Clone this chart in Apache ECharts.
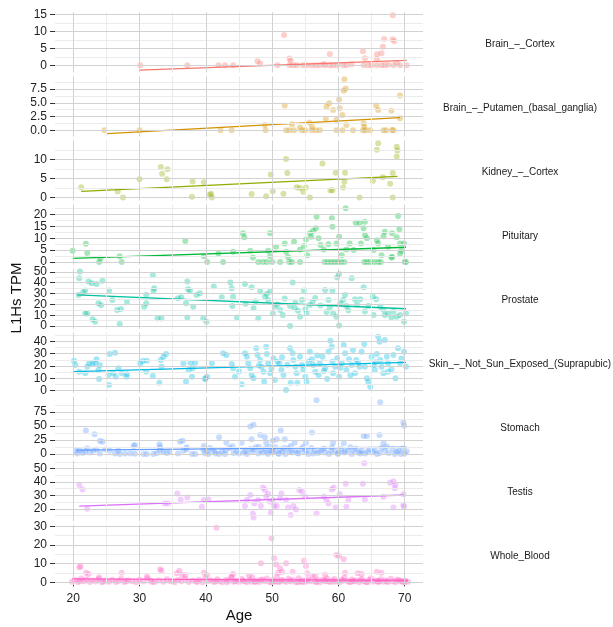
<!DOCTYPE html>
<html><head><meta charset="utf-8">
<script src="https://cdn.jsdelivr.net/npm/echarts@6/dist/echarts.min.js"></script>
<style>html,body{margin:0;padding:0;background:#fff}#c{width:613px;height:627px}</style>
</head><body><div id="c"></div>
<script>
// ---------------- DATA ----------------
const tissues = ['Brain_–_Cortex','Brain_–_Putamen_(basal_ganglia)','Kidney_–_Cortex','Pituitary','Prostate','Skin_–_Not_Sun_Exposed_(Suprapubic)','Stomach','Testis','Whole_Blood'];
const xTicks = [20,30,40,50,60,70];
const xMinorTicks = [25,35,45,55,65];
const yTicks = [[0,5,10,15],[0,2.5,5,7.5],[0,5,10],[0,5,10,15,20],[0,10,20,30,40,50],[0,10,20,30,40],[0,25,50,75],[20,30,40,50],[0,10,20,30]];
const yMinorTicks = [[2.5,7.5,12.5],[1.25,3.75,6.25,8.75],[2.5,7.5,12.5],[2.5,7.5,12.5,17.5,22.5],[5,15,25,35,45],[5,15,25,35,45],[12.5,37.5,62.5,87.5],[15,25,35,45,55],[5,15,25]];
const yLimits = [[-2.16,15.71],[-1.15,9.8],[-0.85,14.95],[-1.2,24.3],[-2.5,53.1],[-1.74,47.1],[-5,102.5],[10.9,56],[-1.45,30.85]];
const xLimits = [17.24,72.76];

const cortexPts = [[30.1,0],[37.2,0],[41.9,0],[42.9,0],[44.1,0],[47.8,1.2],[48.2,0.5],[50.8,0],[51.8,9.0],[52.6,2.0],[52.8,1.3],[52.6,0],[53.2,0],[53.7,0],[54.7,0],[55.3,0],[56.0,0],[56.6,0],[57.2,0],[57.8,0.4],[58.0,0],[58.7,0],[59.2,0],[58.7,3.35],[59.8,0],[60.7,0],[61.2,0],[62.0,0.3],[63.7,4.2],[64.0,2.1],[63.8,0],[64.5,0],[65.0,0],[65.8,3.3],[65.8,1.8],[65.8,0],[66.5,3.6],[66.5,0],[66.7,5.5],[66.9,7.8],[67.0,0],[67.5,0.2],[68.2,7.7],[68.4,7.1],[68.2,14.8],[68.3,0],[68.8,0.5],[69.3,0],[70.3,0]];
const putamenPts = [[24.7,0],[30.0,0],[42.2,0],[43.9,0],[48.9,0.96],[49.0,0],[51.9,4.5],[52.1,0],[52.6,0],[53.3,0],[53.0,1.1],[54.2,0.5],[54.5,0],[55.0,0],[55.6,1.4],[56.0,0.66],[56.0,0],[56.6,0],[57.2,0],[58.2,4.3],[58.6,4.9],[58.1,2.1],[59.2,3.7],[59.7,1.9],[59.7,0],[60.1,5.6],[60.2,4.0],[60.6,2.8],[60.6,0],[60.8,7.2],[61.1,7.6],[60.9,9.26],[61.2,0.96],[62.2,0],[63.7,0],[63.8,1.27],[63.9,0.66],[64.1,0],[64.8,0],[65.7,4.5],[66.0,3.7],[66.8,0],[67.2,0],[68.0,3.56],[68.1,0.05],[68.3,0],[69.3,6.3],[69.3,2.2]];
const kidneyPts = [[21.2,2.7],[26.7,1.55],[27.5,0],[30.0,4.8],[33.2,8.0],[33.4,6.2],[34.2,7.4],[34.1,4.8],[38.0,4.2],[37.9,0.2],[39.7,4.0],[40.6,0.7],[40.8,1.0],[40.9,0],[46.9,0.9],[49.1,0.3],[49.8,6.0],[50.1,1.6],[51.7,1.0],[52.1,10.1],[52.3,6.4],[53.7,2.7],[54.2,2.5],[54.7,1.5],[55.1,2.6],[55.7,0],[57.6,8.9],[58.8,1.8],[59.1,1.9],[59.6,6.5],[60.7,2.6],[60.9,4.1],[61.0,6.5],[63.2,0],[65.2,4.4],[65.8,12.5],[66.0,14.2],[66.7,5.3],[67.8,3.6],[68.2,6.4],[68.2,0],[68.8,13.3],[68.9,12.3],[68.8,10.7]];
const pituitaryPts = [[19.9,4.7],[21.9,7.7],[22.1,3.8],[23.9,0],[24.1,1.4],[27.0,2.4],[27.3,0],[36.9,8.8],[39.7,2.4],[40.2,0],[41.9,3.6],[42.6,0],[44.1,4.3],[45.6,12.1],[45.8,10.4],[46.7,4.7],[47.1,1.9],[47.9,0],[48.6,0],[49.2,0],[49.4,4.7],[49.7,12.1],[49.7,2.4],[50.0,0],[50.6,6.4],[51.2,0],[51.9,7.8],[52.1,4.3],[52.4,2.1],[52.6,0],[53.0,0],[53.3,8.5],[54.2,5.3],[54.8,6.7],[55.1,9.5],[55.3,2.85],[54.2,0],[55.7,12.1],[55.9,10.6],[56.2,13.2],[56.6,14.2],[56.7,19.1],[57.0,10.0],[57.3,7.1],[57.8,5.3],[58.5,7.5],[59.0,18.5],[59.1,14.9],[57.9,0],[58.4,0],[58.9,0],[59.4,0],[59.9,0],[60.4,0],[60.9,0],[59.7,7.8],[60.1,10.6],[60.5,2.85],[61.1,22.7],[61.2,5.3],[61.7,7.8],[62.3,5.0],[62.6,16.6],[63.2,16.6],[63.4,7.8],[63.8,14.2],[64.0,17.0],[64.0,11.4],[64.3,10.0],[63.9,0],[64.3,0],[64.8,0],[65.4,0],[66.0,0],[66.4,0],[65.3,5.0],[65.8,9.2],[66.0,7.8],[66.5,2.85],[66.8,10.9],[67.0,12.8],[67.5,6.4],[68.0,1.9],[68.1,12.1],[68.8,10.4],[69.0,19.4],[69.2,13.8],[69.3,7.8],[69.9,7.8],[69.5,4.7],[69.3,3.6],[70.2,0],[70.0,0],[68.1,2.1]];
const prostatePts = [[21.0,50.3],[20.9,44.1],[20.8,28.7],[21.5,31.2],[21.8,32.7],[22.3,41.0],[22.8,39.5],[22.1,11.7],[21.8,11.7],[22.9,6.2],[23.3,4.0],[23.5,38.9],[23.8,21.0],[24.2,19.1],[24.4,41.9],[25.4,32.7],[25.9,24.1],[26.6,14.8],[27.2,15.7],[27.0,1.9],[28.1,22.5],[30.7,17.9],[31.0,21.0],[31.0,28.7],[32.0,46.9],[32.1,32.7],[32.2,34.9],[32.7,7.1],[33.3,7.1],[35.8,25.6],[36.3,26.6],[37.2,41.0],[37.3,34.0],[37.6,32.7],[37.0,21.0],[38.1,17.9],[38.6,28.7],[39.1,30.3],[39.6,7.1],[40.1,4.0],[37.2,8.0],[41.2,36.4],[42.4,26.6],[43.7,40.1],[43.9,34.9],[44.1,27.1],[44.0,18.5],[44.7,8.0],[45.9,38.9],[46.9,35.8],[47.2,16.4],[47.9,7.1],[48.2,31.8],[48.9,27.1],[49.2,29.6],[49.4,24.1],[49.7,31.8],[50.1,11.7],[50.4,17.9],[51.2,14.8],[51.6,10.2],[52.7,0],[53.1,40.1],[52.7,18.5],[53.4,16.4],[53.9,14.2],[54.5,24.1],[54.2,8.6],[54.8,32.7],[55.2,12.3],[55.7,19.4],[56.1,22.5],[58.0,33.3],[58.5,24.1],[58.7,17.3],[59.1,32.7],[59.2,11.7],[59.7,8.6],[59.8,45.1],[60.1,48.1],[60.1,0.6],[60.3,21.0],[60.7,24.1],[61.0,28.7],[61.2,18.5],[62.0,44.1],[62.5,24.7],[63.3,24.7],[63.8,35.8],[64.5,18.5],[65.2,27.1],[65.3,10.2],[65.7,24.7],[66.3,17.9],[67.0,10.2],[67.5,11.7],[68.0,8.0],[68.8,8.6],[69.3,10.2],[69.9,4.0],[70.2,11.7],[46.0,20.5],[47.5,23.0],[50.8,20.0],[51.9,25.5],[53.5,21.5],[55.0,15.5],[56.5,26.0],[57.3,19.0],[58.2,13.0],[61.5,14.5],[62.8,20.0],[64.0,13.5],[66.8,15.0],[68.3,13.5]];
const skinPts = [[20.1,24.3],[20.3,20.8],[20.9,15.4],[21.8,14.1],[22.1,19.4],[22.4,22.2],[22.9,21.6],[23.3,22.7],[23.5,25.4],[23.8,16.8],[23.9,9.5],[24.0,20.8],[25.4,4.6],[25.5,29.7],[26.3,30.8],[25.3,12.7],[26.0,14.1],[26.4,11.3],[26.8,18.1],[27.3,14.1],[28.0,11.3],[28.1,13.5],[30.1,22.2],[30.5,24.0],[31.1,24.3],[31.0,15.4],[32.0,11.9],[33.0,6.5],[33.2,24.9],[33.3,19.4],[33.6,27.5],[34.0,29.7],[36.6,22.2],[37.0,7.3],[37.4,16.8],[37.7,22.7],[37.9,11.3],[38.0,18.1],[38.4,22.7],[39.9,9.2],[40.2,11.3],[39.9,10.0],[40.9,22.2],[42.6,30.3],[43.1,28.9],[43.9,21.6],[44.1,18.1],[44.4,11.3],[45.4,5.2],[45.9,30.3],[46.2,27.5],[46.4,22.2],[46.7,18.1],[46.9,12.7],[47.2,10.0],[47.6,34.3],[47.8,28.9],[48.2,24.9],[48.4,19.4],[48.7,15.4],[48.8,7.3],[49.1,35.6],[49.2,29.7],[49.4,22.2],[49.7,14.1],[49.9,18.1],[50.2,26.2],[50.4,8.7],[50.8,23.5],[51.1,22.2],[51.4,16.8],[51.7,12.7],[52.1,0.6],[52.7,34.3],[52.8,6.5],[53.1,30.3],[53.2,24.9],[53.5,19.4],[53.7,14.1],[53.8,6.5],[54.2,27.5],[54.5,20.8],[54.7,16.8],[55.0,11.3],[55.2,7.3],[55.7,31.6],[56.0,25.4],[56.2,20.8],[56.5,15.4],[57.0,12.7],[57.2,22.2],[57.6,27.5],[58.0,18.1],[58.5,31.6],[58.8,40.5],[59.0,35.6],[59.1,23.5],[59.2,14.1],[59.5,19.4],[59.8,26.2],[60.1,11.3],[60.5,22.2],[60.8,37.0],[61.0,30.3],[61.2,16.8],[61.6,25.4],[62.0,20.8],[62.2,33.0],[62.5,14.1],[62.7,24.9],[63.2,19.4],[63.5,31.6],[63.9,37.8],[64.0,19.4],[64.3,10.0],[64.5,7.3],[64.8,3.2],[65.0,27.5],[65.3,20.8],[65.5,16.8],[65.8,29.7],[66.0,43.7],[66.2,39.7],[66.3,24.9],[66.5,19.4],[66.8,14.1],[67.0,41.1],[67.3,27.5],[67.5,22.2],[67.5,15.4],[68.0,17.3],[68.3,28.9],[68.6,10.0],[69.0,34.3],[69.3,22.2],[69.9,31.6],[70.2,19.4],[69.5,26.0],[52.3,21.0],[55.5,23.5],[57.8,16.0],[60.3,18.5],[63.0,22.5],[65.6,23.0],[48.0,20.5],[45.0,15.5],[51.5,27.0],[56.8,28.5],[61.8,12.5],[58.3,9.5]];
const stomachPts = [[20.4,6],[20.6,1.2],[21.0,7],[21.4,2],[21.8,5],[21.9,42],[22.1,10],[22.5,3],[23.0,6],[23.2,35.4],[23.5,8],[24.0,23.4],[24.0,1],[24.4,22.2],[24.8,8],[25.5,6],[26.3,1],[26.8,6],[27.0,0],[27.8,1],[28.6,1],[29.1,14.4],[29.3,16.2],[29.3,0.5],[30.6,0],[31.1,0],[32.1,0],[32.6,2],[33.0,17.4],[33.1,13.1],[33.1,7],[33.6,4],[34.1,2],[34.6,4],[35.8,1],[36.1,22.2],[36.5,24],[36.6,6],[37.1,12],[37.1,8],[37.9,0],[38.4,0],[39.6,8],[39.7,14.4],[39.8,2],[40.4,0],[42.0,30],[43.1,20.3],[45.4,20.3],[46.7,49.1],[47.2,52.2],[48.2,34.2],[46.9,26.4],[48.9,30],[49.1,20.3],[49.6,13.1],[50.1,24],[50.7,26.4],[51.3,42],[51.9,26.4],[52.8,14.4],[53.4,20.3],[56.0,38.4],[56.7,95.9],[55.1,20.3],[59.2,20.3],[60.8,19.2],[63.8,32.4],[64.3,32.4],[66.2,34.2],[66.3,92.3],[66.8,19.2],[69.8,56.3],[69.9,50.4],[40.2,3],[41.0,8],[41.5,1],[42.4,5],[42.9,0],[43.6,11],[44.2,2],[44.6,6],[45.7,3],[46.2,0],[46.7,9],[47.0,4],[47.5,12],[47.9,1],[48.3,6],[48.6,3],[49.0,10],[49.4,0],[49.8,7],[50.2,4],[50.5,12],[50.9,2],[51.2,8],[51.6,5],[52.0,0],[52.4,10],[53.0,3],[53.5,7],[54.0,1],[54.4,9],[54.9,4],[55.5,0],[55.9,11],[56.4,6],[56.9,2],[57.5,8],[58.0,3],[58.6,0],[59.0,12],[59.5,5],[60.0,2],[60.4,9],[61.0,4],[61.5,7],[62.0,0],[62.6,10],[63.1,3],[63.5,6],[64.0,1],[64.7,8],[65.2,4],[65.8,0],[66.5,11],[67.0,6],[67.6,2],[68.2,9],[68.8,4],[69.4,0],[70.0,1],[70.3,5],[40.6,11],[41.3,4],[42.0,0],[43.0,7],[44.0,14],[45.0,1],[46.0,5],[47.3,8],[48.0,13],[49.2,3],[50.0,6],[51.0,0],[51.8,11],[52.7,5],[53.8,2],[54.7,13],[55.2,6],[56.2,1],[57.2,4],[57.9,10],[58.9,6],[59.9,0],[60.8,3],[61.8,12],[62.4,6],[63.3,1],[64.4,4],[65.5,7],[66.2,2],[67.3,13],[68.5,0],[69.1,6],[69.7,10]];
const testisPts = [[20.9,37.8],[21.4,34.5],[22.1,20.0],[33.8,24.0],[34.3,24.0],[35.7,31.5],[36.2,27.0],[37.2,28.5],[39.4,21.5],[39.7,26.5],[40.4,27.0],[45.9,22.0],[46.2,26.5],[46.7,30.3],[47.1,16.5],[47.2,13.5],[47.3,24.0],[47.9,26.5],[48.3,22.0],[48.6,36.0],[48.9,34.0],[49.1,29.0],[49.4,31.0],[49.7,25.3],[49.8,17.0],[50.1,26.5],[50.3,22.0],[50.7,22.0],[51.2,27.8],[51.4,31.5],[52.1,26.5],[52.4,21.0],[52.8,15.3],[53.2,22.0],[53.6,19.5],[54.1,34.0],[54.5,32.8],[55.0,29.0],[56.7,16.5],[57.8,29.0],[58.2,26.5],[58.5,24.0],[59.0,34.5],[59.3,36.0],[59.6,21.0],[60.2,31.0],[61.1,38.8],[61.2,21.5],[61.5,26.5],[63.7,38.8],[63.9,54.0],[64.0,27.0],[66.8,29.0],[67.8,39.5],[68.3,21.0],[68.5,35.3],[69.8,22.8],[69.9,21.5],[69.8,30.8],[68.3,40.5],[68.6,38.0]];
const bloodPts = [[20.9,8.0],[21.1,8.4],[21.9,5.1],[22.3,4.4],[23.9,2.7],[27.3,5.1],[31.1,3.0],[33.1,7.0],[33.3,6.2],[35.6,4.8],[36.0,6.2],[36.4,3.9],[36.9,3.9],[39.7,5.1],[40.2,3.9],[41.6,29.2],[49.9,23.6],[50.3,12.9],[48.3,10.2],[51.2,7.5],[50.9,5.1],[52.1,10.2],[53.1,5.7],[54.8,11.6],[55.1,8.7],[55.3,4.8],[59.7,14.6],[60.1,14.1],[60.8,12.3],[61.0,5.1],[62.9,4.8],[63.5,4.4],[65.8,5.7],[66.5,5.1],[44.1,4.4],[43.9,3.0],[50.6,9.5],[51.5,5.5],[46.5,3.5],[56.5,3.2],[58.0,4.0],
[19.8,0.3],[20.3,1.2],[20.7,0.1],[21.2,2.0],[21.6,0.6],[22.0,1.5],[22.5,0.2],[22.9,1.0],[23.4,0.4],[23.8,1.8],[24.3,0.0],[24.9,0.9],[25.4,0.3],[25.9,1.4],[26.4,0.1],[26.8,0.7],[27.2,1.9],[27.7,0.2],[28.3,1.1],[28.9,0.5],[29.5,0.0],[30.0,1.3],[30.6,0.4],[31.2,2.2],[31.7,0.8],[32.3,0.1],[32.9,1.0],[33.6,0.3],[34.1,1.6],[34.7,0.5],[35.3,0.0],[35.8,1.2],[36.3,0.6],[36.9,1.9],[37.4,0.2],[38.0,0.9],[38.5,0.4],[39.0,1.4],[39.5,0.0],[39.9,2.1],[40.4,0.7],[40.8,1.1],[41.2,0.2],[41.7,1.6],[42.1,0.5],[42.5,0.0],[43.0,1.3],[43.4,0.8],[43.8,2.4],[44.2,0.3],[44.6,1.0],[45.0,0.1],[45.4,1.7],[45.8,0.6],[46.2,0.0],[46.6,1.2],[47.0,2.6],[47.3,0.4],[47.7,0.9],[48.1,0.1],[48.5,1.5],[48.9,0.5],[49.2,2.0],[49.6,0.2],[50.0,1.1],[50.3,0.6],[50.7,3.0],[51.0,0.0],[51.4,1.4],[51.8,0.8],[52.1,0.2],[52.5,1.9],[52.9,0.4],[53.2,1.2],[53.6,0.0],[54.0,2.2],[54.3,0.7],[54.7,1.0],[55.0,0.1],[55.4,1.6],[55.8,0.5],[56.1,2.8],[56.5,0.3],[56.9,1.1],[57.2,0.0],[57.6,1.4],[58.0,0.6],[58.3,2.0],[58.7,0.2],[59.1,0.9],[59.4,1.7],[59.8,0.4],[60.2,0.0],[60.5,1.3],[60.9,2.4],[61.3,0.7],[61.6,0.1],[62.0,1.5],[62.4,0.5],[62.7,1.0],[63.1,0.0],[63.5,1.8],[63.8,0.6],[64.2,0.2],[64.6,1.2],[64.9,2.1],[65.3,0.4],[65.7,0.9],[66.0,0.0],[66.4,1.6],[66.8,0.3],[67.1,1.1],[67.5,0.1],[67.9,1.9],[68.2,0.6],[68.6,0.0],[69.0,1.3],[69.3,0.5],[69.7,0.2],[70.1,1.0],[70.5,0.3],
[44.4,0.5],[45.6,1.0],[46.9,0.3],[48.3,1.2],[49.9,0.0],[51.2,0.6],[52.7,0.9],[53.9,0.2],[55.2,0.8],[56.7,0.1],[57.9,1.0],[59.3,0.3],[60.7,0.9],[61.9,0.2],[63.3,1.1],[64.4,0.0],[65.9,0.7],[67.3,0.4],[68.8,1.1],[70.0,0.0],[21.0,0.5],[24.6,0.4],[28.0,0.6],[31.9,0.2],[35.0,0.7],[38.7,0.1],[41.5,0.4],[43.2,0.0],[47.5,0.2],[50.5,0.3],[54.5,0.0],[58.5,0.5],[62.2,0.8],[66.2,0.5],[69.5,0.8]];

// linear fit lines: [startAge, startTPM], [endAge, endTPM]
const cortexTrend = [[30.0,-1.4],[70.3,1.45]];
const putamenTrend = [[25.1,-0.6],[69.3,2.3]];
const kidneyTrend = [[21.2,1.6],[68.9,5.5]];
const pituitaryTrend = [[19.9,1.5],[70.2,6.2]];
const prostateTrend = [[20.6,28.7],[70.2,16.0]];
const skinTrend = [[20.1,15.4],[70.2,23.0]];
const stomachTrend = [[20.4,7.2],[70.3,12.5]];
const testisTrend = [[20.9,22.0],[69.9,30.3]];
const bloodTrend = [[19.8,1.8],[70.5,1.0]];

const pointSets = [cortexPts,putamenPts,kidneyPts,pituitaryPts,prostatePts,skinPts,stomachPts,testisPts,bloodPts];
const trendSets = [cortexTrend,putamenTrend,kidneyTrend,pituitaryTrend,prostateTrend,skinTrend,stomachTrend,testisTrend,bloodTrend];

// ---------------- STYLE / LAYOUT ----------------
const colors = ['#F8766D','#D39200','#93AA00','#00BA38','#00C19F','#00B9E3','#619CFF','#DB72FB','#FF61C3'];
const labelDecimals = [0,1,0,0,0,0,0,0,0];
const FONT = 'Liberation Sans, Arial, sans-serif';
const gridLeft = 55, gridRight = 190, panelH = 60.3, panelGap = 3.75, firstTop = 12.3;
const majorCol = '#d2d2d2', minorCol = '#ebebeb';

const grids = [], xAxes = [], yAxes = [], series = [], graphics = [];
const gridLineSeries = (i, yVals, xVals, color) => ({
  type: 'scatter', xAxisIndex: i, yAxisIndex: 2*i, data: [], silent: true, z: 1,
  markLine: {silent: true, animation: false, symbol: ['none','none'], label: {show: false},
    lineStyle: {color: color, width: 1, type: 'solid'}, emphasis: {disabled: true},
    data: yVals.map(v => ({yAxis: v})).concat(xVals.map(v => ({xAxis: v})))}
});
for (let i = 0; i < 9; i++) {
  const top = firstTop + i * (panelH + panelGap);
  grids.push({left: gridLeft, right: gridRight, top: top, height: panelH});
  const last = i === 8;
  xAxes.push({gridIndex: i, type: 'value', min: xLimits[0], max: xLimits[1], position: 'bottom',
    axisLine: {show: false}, splitLine: {show: false},
    axisTick: {show: last, customValues: xTicks, length: 4, lineStyle: {color: '#333'}},
    axisLabel: {show: last, customValues: xTicks, margin: 8, color: '#222', fontSize: 12, fontFamily: FONT,
      showMinLabel: true, showMaxLabel: true}});
  const dec = labelDecimals[i];
  // two overlaid left axes carry alternating tick labels so that close labels are never dropped
  const evenT = yTicks[i].filter((v, k) => k % 2 === 0);
  const oddT = yTicks[i].filter((v, k) => k % 2 === 1);
  [evenT, oddT].forEach(vals => {
    yAxes.push({gridIndex: i, type: 'value', min: yLimits[i][0], max: yLimits[i][1], position: 'left', offset: 0,
      axisLine: {show: false}, splitLine: {show: false},
      axisTick: {show: true, customValues: vals, length: 5, lineStyle: {color: '#333'}},
      axisLabel: {show: true, customValues: vals, margin: 8, color: '#222', fontSize: 12, fontFamily: FONT,
        showMinLabel: true, showMaxLabel: true,
        formatter: v => dec ? Number(v).toFixed(dec) : String(v)}});
  });
  series.push(gridLineSeries(i, yMinorTicks[i], xMinorTicks, minorCol));
  series.push(gridLineSeries(i, yTicks[i], xTicks, majorCol));
  series.push({type: 'scatter', xAxisIndex: i, yAxisIndex: 2*i, data: pointSets[i], symbolSize: 6,
    itemStyle: {color: colors[i], opacity: 0.35}, silent: true, z: 2});
  series.push({type: 'line', xAxisIndex: i, yAxisIndex: 2*i, data: trendSets[i], showSymbol: false,
    lineStyle: {color: colors[i], width: 1.3}, silent: true, z: 3});
  graphics.push({type: 'text', x: 520, y: top + panelH/2 + 1.5,
    style: {text: tissues[i], fill: '#1a1a1a', font: '10px ' + FONT, textAlign: 'center', textVerticalAlign: 'middle'}});
}
graphics.push({type: 'text', x: 16.5, y: 298, rotation: Math.PI/2,
  style: {text: 'L1Hs TPM', fill: '#111', font: '15px ' + FONT, textAlign: 'center', textVerticalAlign: 'middle'}});
graphics.push({type: 'text', x: 239, y: 616,
  style: {text: 'Age', fill: '#111', font: '15px ' + FONT, textAlign: 'center', textVerticalAlign: 'middle'}});

const chart = echarts.init(document.getElementById('c'), null, {renderer: 'canvas'});
chart.setOption({animation: false, backgroundColor: '#fff', grid: grids, xAxis: xAxes, yAxis: yAxes, series: series, graphic: graphics});
</script></body></html>
